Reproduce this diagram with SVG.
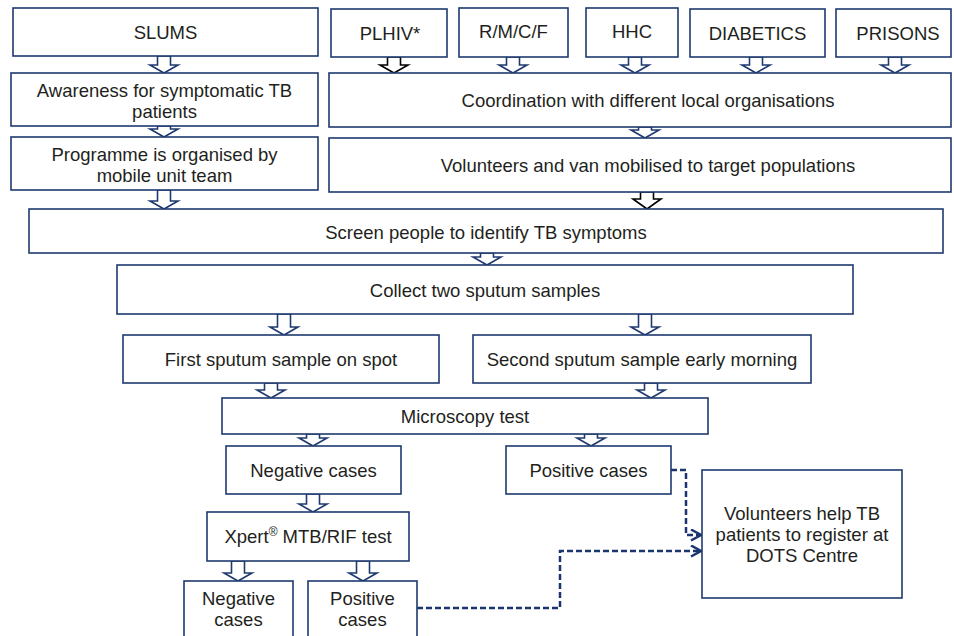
<svg xmlns="http://www.w3.org/2000/svg" width="954" height="636" viewBox="0 0 954 636">
<defs>
<style>
.box{fill:#fff;stroke:#1f3a70;stroke-width:1.6}
.t{font-family:"Liberation Sans",Arial,sans-serif;font-size:18.5px;fill:#231f20;text-anchor:middle}
.ar{fill:#fff;stroke:#1f3a70;stroke-width:1.6;stroke-linejoin:miter}
.ark{fill:#fff;stroke:#000;stroke-width:1.6}
.dash{fill:none;stroke:#1a3570;stroke-width:2.5;stroke-dasharray:6 3}
</style>
<marker id="chev" markerUnits="userSpaceOnUse" markerWidth="14" markerHeight="14" refX="11" refY="6" orient="auto">
<path d="M1,0.5 L11,6 L1,11.5" fill="none" stroke="#1a3570" stroke-width="2.5" stroke-dasharray="none"/>
</marker>
</defs>
<rect width="954" height="636" fill="#fff"/>
<g id="connectors">
<polygon class="ar" points="157.5,56 170.5,56 170.5,65 178,65 164,73 150,65 157.5,65"/>
<polygon class="ar" points="157.5,126 170.5,126 170.5,129 178,129 164,137 150,129 157.5,129"/>
<polygon class="ar" points="157.5,190 170.5,190 170.5,201 178,201 164,209 150,201 157.5,201"/>
<polygon class="ark" points="387.5,57 400.5,57 400.5,65 408,65 394,73 380,65 387.5,65"/>
<polygon class="ar" points="506.5,57 519.5,57 519.5,65 527,65 513,73 499,65 506.5,65"/>
<polygon class="ar" points="628.5,57 641.5,57 641.5,65 649,65 635,73 621,65 628.5,65"/>
<polygon class="ar" points="749.5,57 762.5,57 762.5,65 770,65 756,73 742,65 749.5,65"/>
<polygon class="ar" points="888.5,57 901.5,57 901.5,65 909,65 895,73 881,65 888.5,65"/>
<polygon class="ar" points="638.5,127 651.5,127 651.5,130 659,130 645,138 631,130 638.5,130"/>
<polygon class="ark" points="640.5,192 653.5,192 653.5,199 661,199 647,209 633,199 640.5,199"/>
<polygon class="ar" points="480.5,253 493.5,253 493.5,257 501,257 487,265 473,257 480.5,257"/>
<polygon class="ar" points="277.5,314 290.5,314 290.5,327 298,327 284,335 270,327 277.5,327"/>
<polygon class="ar" points="638.5,314 651.5,314 651.5,327 659,327 645,335 631,327 638.5,327"/>
<polygon class="ar" points="264.5,383 277.5,383 277.5,390 285,390 271,398 257,390 264.5,390"/>
<polygon class="ar" points="644.5,383 657.5,383 657.5,390 665,390 651,398 637,390 644.5,390"/>
<polygon class="ar" points="306.5,434 319.5,434 319.5,438 327,438 313,446 299,438 306.5,438"/>
<polygon class="ar" points="584.5,434 597.5,434 597.5,438 605,438 591,446 577,438 584.5,438"/>
<polygon class="ar" points="306.5,494 319.5,494 319.5,504 327,504 313,512 299,504 306.5,504"/>
<polygon class="ar" points="231.5,561 244.5,561 244.5,573 252,573 238,581 224,573 231.5,573"/>
<polygon class="ar" points="356.5,561 369.5,561 369.5,573 377,573 363,581 349,573 356.5,573"/>
<path class="dash" d="M671,470 H686 V535 H701" marker-end="url(#chev)"/>
<path class="dash" d="M417,608 H560 V551 H701" marker-end="url(#chev)"/>
</g>
<g id="slums"><rect class="box" x="13" y="8" width="305" height="48"/><text class="t" x="165.5" y="39">SLUMS</text></g>
<g id="awareness"><rect class="box" x="11" y="73" width="307" height="53"/><text class="t" x="164.5" y="97">Awareness for symptomatic TB</text><text class="t" x="164.5" y="118">patients</text></g>
<g id="programme"><rect class="box" x="11" y="137" width="307" height="53"/><text class="t" x="164.5" y="161">Programme is organised by</text><text class="t" x="164.5" y="182">mobile unit team</text></g>
<g id="plhiv"><rect class="box" x="331" y="9" width="116" height="48"/><text class="t" x="390" y="40">PLHIV*</text></g>
<g id="rmcf"><rect class="box" x="459" y="8" width="109" height="49"/><text class="t" x="513.5" y="38">R/M/C/F</text></g>
<g id="hhc"><rect class="box" x="586" y="8" width="92" height="49"/><text class="t" x="632" y="38">HHC</text></g>
<g id="diabetics"><rect class="box" x="690" y="9" width="135" height="48"/><text class="t" x="757.5" y="40">DIABETICS</text></g>
<g id="prisons"><rect class="box" x="836" y="9" width="115" height="48"/><text class="t" x="898" y="40">PRISONS</text></g>
<g id="coordination"><rect class="box" x="329" y="73" width="622" height="54"/><text class="t" x="648" y="107">Coordination with different local organisations</text></g>
<g id="volunteers-van"><rect class="box" x="329" y="138" width="622" height="54"/><text class="t" x="648" y="172">Volunteers and van mobilised to target populations</text></g>
<g id="screen"><rect class="box" x="29" y="209" width="914" height="44"/><text class="t" x="486" y="239">Screen people to identify TB symptoms</text></g>
<g id="collect"><rect class="box" x="117" y="265" width="736" height="49"/><text class="t" x="485" y="297">Collect two sputum samples</text></g>
<g id="first"><rect class="box" x="123" y="335" width="316" height="48"/><text class="t" x="281" y="366">First sputum sample on spot</text></g>
<g id="second"><rect class="box" x="473" y="335" width="338" height="48"/><text class="t" x="642" y="366">Second sputum sample early morning</text></g>
<g id="microscopy"><rect class="box" x="222" y="398" width="486" height="36"/><text class="t" x="465" y="423">Microscopy test</text></g>
<g id="negative"><rect class="box" x="226" y="446" width="175" height="48"/><text class="t" x="313.5" y="477">Negative cases</text></g>
<g id="positive"><rect class="box" x="506" y="446" width="165" height="48"/><text class="t" x="588.5" y="477">Positive cases</text></g>
<g id="xpert"><rect class="box" x="207" y="512" width="202" height="49"/><text class="t" x="308" y="543">Xpert<tspan font-size="12" dy="-7">®</tspan><tspan dy="7"> MTB/RIF test</tspan></text></g>
<g id="negative2"><rect class="box" x="184" y="581" width="109" height="70"/><text class="t" x="238.5" y="605">Negative</text><text class="t" x="238.5" y="626">cases</text></g>
<g id="positive2"><rect class="box" x="308" y="581" width="109" height="70"/><text class="t" x="362.5" y="605">Positive</text><text class="t" x="362.5" y="626">cases</text></g>
<g id="dots"><rect class="box" x="702" y="470" width="200" height="128"/><text class="t" x="802" y="520">Volunteers help TB</text><text class="t" x="802" y="541">patients to register at</text><text class="t" x="802" y="562">DOTS Centre</text></g>
</svg>
